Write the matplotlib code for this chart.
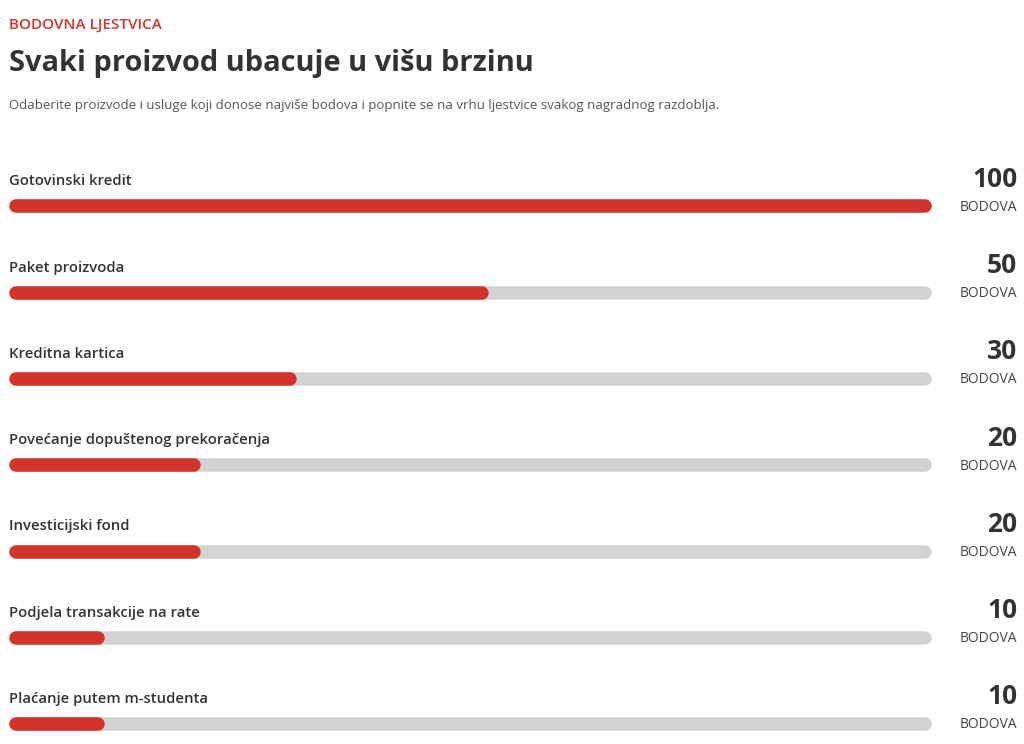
import matplotlib
matplotlib.use("Agg")
import matplotlib.pyplot as plt

# 数据
kategorije = [
    "Gotovinski kredit",
    "Paket proizvoda",
    "Kreditna kartica",
    "Povećanje dopuštenog prekoračenja",
    "Investicijski fond",
    "Podjela transakcije na rate",
    "Plaćanje putem m-studenta",
]
bodovi = [100, 50, 30, 20, 20, 10, 10]
jedinica = "BODOVA"

nadnaslov = "BODOVNA LJESTVICA"
naslov = "Svaki proizvod ubacuje u višu brzinu"
podnaslov = ("Odaberite proizvode i usluge koji donose najviše bodova i popnite se "
             "na vrhu ljestvice svakog nagradnog razdoblja.")

# 样式
CRVENA = "#d2332a"
SIVA = "#d2d2d2"
TAMNA = "#333333"
FONT = ["Open Sans", "DejaVu Sans"]
SKALA = 96.1  # 轨道全长对应的分值, 100 分的条被截在轨道末端

W, H = 1024, 744
fig = plt.figure(figsize=(W / 100, H / 100), dpi=100)
fig.patch.set_facecolor("white")

# 轨道区域: 像素 9..932, 行间距 86.3 px, 第一行条中心 206.3 px
ax = fig.add_axes([9 / W, 0, (932 - 9) / W, 1])
ax.set_xlim(0, SKALA)
y0, dy = 206.3, 86.3
ax.set_ylim((H - y0) / dy, -y0 / dy)
ax.axis("off")

lw = 13.5 * 72 / 100  # 条高 13.5 px
r = 6.75 * SKALA / (932 - 9)  # 圆头半径(数据单位)

for i, (ime, v) in enumerate(zip(kategorije, bodovi)):
    ax.plot([r, SKALA - r], [i, i], color=SIVA, lw=lw, solid_capstyle="round")
    kraj = min(v, SKALA)
    ax.plot([r, kraj - r], [i, i], color=CRVENA, lw=lw, solid_capstyle="round")
    ax.text(0, i - 0.29, ime, ha="left", va="center", fontsize=10.7,
            fontweight="semibold", color=TAMNA, family=FONT)
    ax.text(1.0925, i - 0.315, str(v), transform=ax.get_yaxis_transform(),
            ha="right", va="center", fontsize=19, fontweight="bold",
            color=TAMNA, family=FONT, clip_on=False)
    ax.text(1.0925, i + 0.01, jedinica, transform=ax.get_yaxis_transform(),
            ha="right", va="center", fontsize=10, color="#444444",
            family=FONT, clip_on=False)

fig.text(9 / W, 1 - 25 / H, nadnaslov, ha="left", va="center", fontsize=11,
         fontweight="semibold", color=CRVENA, family=FONT)
fig.text(9 / W, 1 - 64 / H, naslov, ha="left", va="center", fontsize=20.9,
         fontweight="bold", color=TAMNA, family=FONT)
fig.text(9 / W, 1 - 105 / H, podnaslov, ha="left", va="center", fontsize=9.5,
         color="#555555", family=FONT)

fig.savefig("out.png", dpi=100, facecolor="white")
